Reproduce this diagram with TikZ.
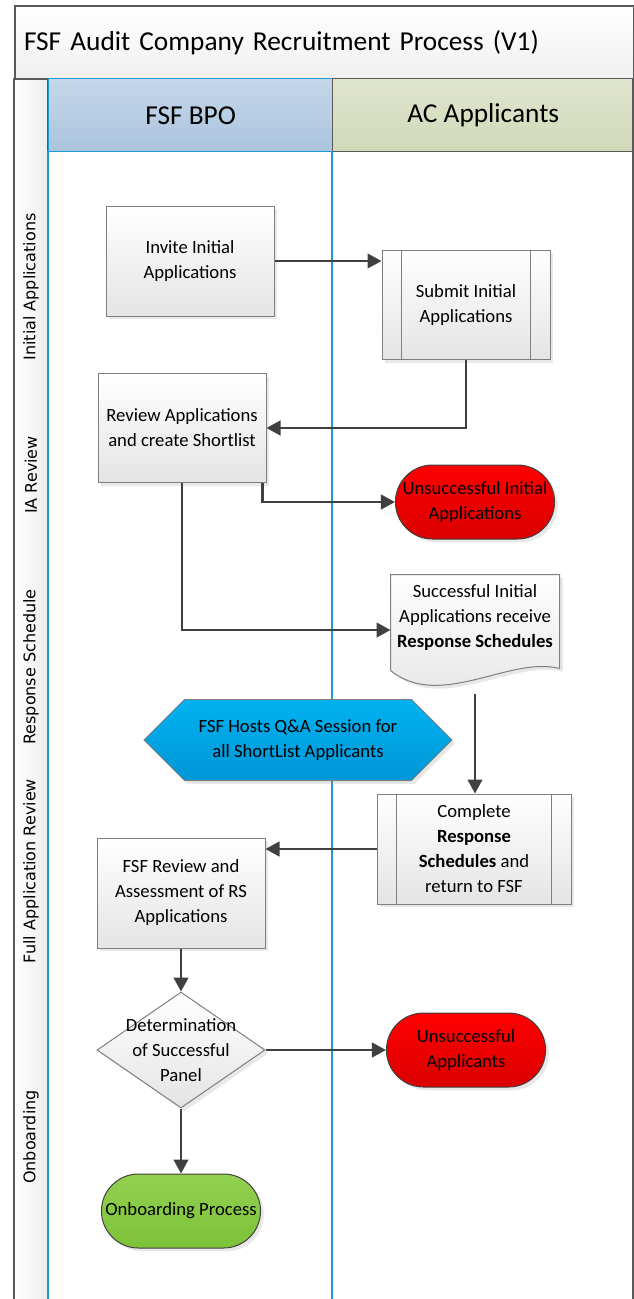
\documentclass[tikz,border=0pt]{standalone}
\usepackage{fontspec}
\setmainfont{Carlito}
\newfontfamily\lanefont{DejaVu Sans}
\usetikzlibrary{arrows.meta,calc,shadows,shapes.geometric,shapes.misc,shapes.symbols}

\definecolor{frameline}{RGB}{89,89,89}
\definecolor{laneblue}{RGB}{30,155,215}
\definecolor{darkline}{RGB}{64,64,64}
\definecolor{boxline}{RGB}{127,127,127}
\definecolor{boxbot}{RGB}{228,228,228}
\definecolor{bpotop}{RGB}{197,215,233}
\definecolor{bpobot}{RGB}{170,196,222}
\definecolor{actop}{RGB}{224,229,206}
\definecolor{acbot}{RGB}{208,217,184}
\definecolor{redtop}{RGB}{255,0,0}
\definecolor{redbot}{RGB}{218,0,0}
\definecolor{greentop}{RGB}{146,208,80}
\definecolor{greenbot}{RGB}{124,194,56}
\definecolor{hextop}{RGB}{0,178,240}
\definecolor{hexbot}{RGB}{0,150,214}

\tikzset{every picture/.style={line width=0.75pt}}
\tikzset{
  shapetext/.style={font=\fontsize{14}{18.75}\selectfont, align=center, text=black},
  bandtext/.style={font=\fontsize{20.5}{25}\selectfont},
  lanetext/.style={font=\lanefont\fontsize{12}{14}\selectfont, rotate=90},
  boxshadow/.style={drop shadow={shadow xshift=2.5pt, shadow yshift=-2.5pt, opacity=0.18}},
  procbox/.style={shapetext, draw=boxline, top color=white, bottom color=boxbot, minimum width=126pt, minimum height=82.5pt, inner sep=2pt, boxshadow},
  endcap/.style={shapetext, rounded rectangle, draw=darkline, minimum width=126pt, minimum height=55.5pt, boxshadow},
  failcap/.style={endcap, top color=redtop, bottom color=redbot},
  donecap/.style={endcap, top color=greentop, bottom color=greenbot},
  flow/.style={draw=darkline, line width=1.8pt, -{Triangle[length=10.5pt,width=11pt]}},
}

\begin{document}
\begin{tikzpicture}[x=0.75pt,y=0.75pt,yscale=-1,xscale=1]
	\useasboundingbox (0,0) rectangle (634,1299);
	
	%Shape: Phase column
	\shade [left color=white, right color=gray!14] (14,78) rectangle (47,1299);
	% Title band
	\node (title) [anchor=north west, draw=frameline, line width=1.5pt, top color=white, bottom color=gray!12, minimum width=464.25pt, minimum height=54.75pt, text width=450.75pt, inner xsep=6.75pt, align=left, bandtext] at (14,5) {FSF Audit Company Recruitment Process (V1)};
	% Lane headers
	\node (bpo) [anchor=north west, draw=laneblue, line width=1.1pt, top color=bpotop, bottom color=bpobot, minimum width=213pt, minimum height=54.75pt, bandtext] at (48,78) {FSF BPO};
	\node (acapp) [anchor=north west, draw=frameline, line width=1.1pt, top color=actop, bottom color=acbot, minimum width=225.75pt, minimum height=54.75pt, bandtext] at (332,78) {AC Applicants};
	
	%Straight Lines: frame and lanes
	\draw [frameline, line width=1.5pt] (14,78) -- (14,1299);
	\draw [frameline, line width=1.5pt] (633,78) -- (633,1299);
	\draw [frameline] (47,78) -- (47,1299);
	\draw [laneblue, line width=1.1pt] (48,151) -- (48,1299);
	\draw [laneblue, line width=1.1pt] (332,151) -- (332,1299);
	
	% Text Node: phases
	\node (phinit) [lanetext] at (31,287) {Initial Applications};
	\node (phia) [lanetext] at (31,475) {IA Review};
	\node (phrs) [lanetext] at (31,667) {Response Schedule};
	\node (phfull) [lanetext] at (31,871) {Full Application Review};
	\node (phonb) [lanetext] at (31,1137) {Onboarding};
	
	%Shape: Rectangle
	\node (invite) [procbox] at (190,261) {Invite Initial\\Applications};
	%Shape: Predefined process
	\node (submit) [procbox, minimum height=81.75pt] at (466,305) {Submit Initial\\Applications};
	\draw [boxline] ([xshift=15pt]submit.north west) -- ([xshift=15pt]submit.south west);
	\draw [boxline] ([xshift=-15pt]submit.north east) -- ([xshift=-15pt]submit.south east);
	%Shape: Rectangle
	\node (review) [procbox, minimum height=81.75pt] at (182,428) {Review Applications\\and create Shortlist};
	%Shape: Terminator
	\node (unsucc) [failcap] at (475,502) {Unsuccessful Initial\\Applications};
	%Shape: Document
	\node (success) [minimum width=126pt, minimum height=82.5pt, inner sep=0] at (475,630) {};
	\draw [draw=boxline, top color=white, bottom color=boxbot, boxshadow] (success.north west) -- (success.north east) -- ($(success.south east)+(0,-17)$) .. controls ($(success.south)+(35,-30)$) and ($(success.south)+(-35,25)$) .. ($(success.south west)+(0,-15)$) -- cycle;
	\node (succtext) [shapetext] at (475,617) {Successful Initial\\Applications receive\\\textbf{Response Schedules}};
	%Shape: Preparation
	\node (qa) [shapetext, signal, signal to=west and east, signal pointer angle=90, draw=boxline, top color=hextop, bottom color=hexbot, minimum width=231pt, minimum height=60.75pt, boxshadow] at (298,740) {FSF Hosts Q\&A Session for\\all ShortList Applicants};
	%Shape: Predefined process
	\node (complete) [procbox, minimum width=145.5pt] at (474,849) {Complete\\\textbf{Response}\\\textbf{Schedules} and\\return to FSF};
	\draw [boxline] ([xshift=15pt]complete.north west) -- ([xshift=15pt]complete.south west);
	\draw [boxline] ([xshift=-15pt]complete.north east) -- ([xshift=-15pt]complete.south east);
	%Shape: Rectangle
	\node (assess) [procbox] at (181,893) {FSF Review and\\Assessment of RS\\Applications};
	%Shape: Decision
	\node (decide) [diamond, draw=boxline, top color=white, bottom color=boxbot, minimum width=126pt, minimum height=87pt, inner sep=0, boxshadow, label={[shapetext]center:Determination\\of Successful\\Panel}] at (181,1050) {};
	%Shape: Terminator
	\node (reject) [failcap] at (466,1050) {Unsuccessful\\Applicants};
	\node (onboard) [donecap] at (181,1211) {Onboarding Process};
	
	%Straight Lines
	\draw [flow] (invite.east) -- (invite.east -| submit.west);
	\draw [flow] (submit.south) |- (review.east);
	\draw [flow] ([xshift=-3pt]review.south east) |- (unsucc.west);
	\draw [flow] (review.south) |- (success.west);
	\draw [flow, shorten <=6pt] (success.south) -- (success.south |- complete.north);
	\draw [flow] (complete.west) -- (complete.west -| assess.east);
	\draw [flow] (assess.south) -- (decide.north);
	\draw [flow] (decide.east) -- (reject.west);
	\draw [flow] (decide.south) -- (onboard.north);
	
\end{tikzpicture}
\end{document}
